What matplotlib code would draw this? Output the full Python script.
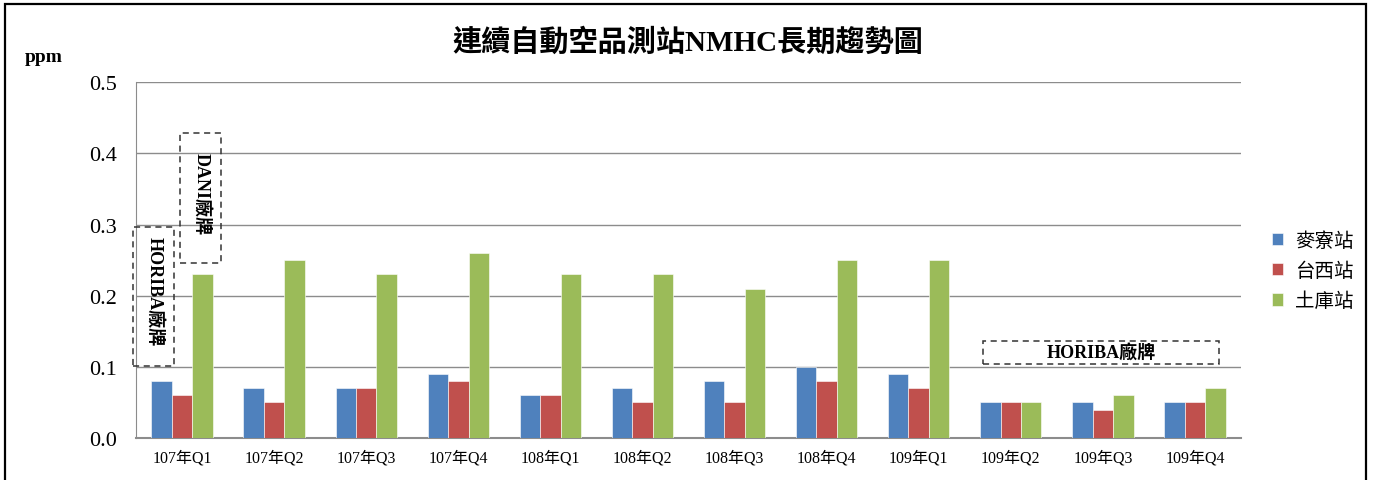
import numpy as np
import matplotlib
matplotlib.use("Agg")
import matplotlib.pyplot as plt
from matplotlib.patches import Rectangle

plt.rcParams['font.family'] = ['Liberation Serif', 'Noto Sans CJK TC', 'DejaVu Sans']

quarters = ['107年Q1', '107年Q2', '107年Q3', '107年Q4', '108年Q1', '108年Q2',
            '108年Q3', '108年Q4', '109年Q1', '109年Q2', '109年Q3', '109年Q4']
stations = ['麥寮站', '台西站', '土庫站']
mailiao = [0.08, 0.07, 0.07, 0.09, 0.06, 0.07, 0.08, 0.10, 0.09, 0.05, 0.05, 0.05]
taixi = [0.06, 0.05, 0.07, 0.08, 0.06, 0.05, 0.05, 0.08, 0.07, 0.05, 0.04, 0.05]
tuku = [0.23, 0.25, 0.23, 0.26, 0.23, 0.23, 0.21, 0.25, 0.25, 0.05, 0.06, 0.07]
colors = ['#4F81BD', '#C0504D', '#9BBB59']

fig = plt.figure(figsize=(13.75, 4.81), dpi=100)
ax = fig.add_axes([136/1375, 1-439/481, (1241-136)/1375, (439-83.3)/481])

x = np.arange(len(quarters))
w = 0.222
for k, (vals, c, name) in enumerate(zip([mailiao, taixi, tuku], colors, stations)):
    ax.bar(x + (k-1)*w, vals, w, color=c, label=name, edgecolor='white', linewidth=0.4, zorder=3)

ax.set_xlim(-0.5, len(quarters)-0.5)
ax.set_ylim(0, 0.5)
ax.set_yticks(np.arange(0, 0.51, 0.1))
ax.set_yticklabels(['%.1f' % v for v in np.arange(0, 0.51, 0.1)], fontsize=16)
ax.set_xticks(x)
ax.set_xticklabels(quarters, fontsize=11.5)
ax.tick_params(axis='both', length=0, pad=8)
ax.tick_params(axis='y', pad=14)
ax.grid(axis='y', color='#8c8c8c', linewidth=1, zorder=0)
for s in ['top', 'right']:
    ax.spines[s].set_visible(False)
ax.spines['left'].set_color('#8c8c8c')
ax.spines['bottom'].set_color('#8c8c8c')
ax.spines['bottom'].set_linewidth(1.5)

fig.text(0.5, 1-42/481, '連續自動空品測站NMHC長期趨勢圖', ha='center', va='center',
         fontsize=21, fontweight='bold')
fig.text(25/1375, 1-58/481, 'ppm', ha='left', va='center', fontsize=14, fontweight='bold')

# dashed boxes marking the analyzer brand periods
boxes = [(-0.53, 0.1017, 0.443, 0.1946, 'HORIBA廠牌', 270),
         (-0.019, 0.246, 0.442, 0.1834, 'DANI廠牌', 270),
         (8.693, 0.1045, 2.569, 0.0319, 'HORIBA廠牌', 0)]
for bx, by, bw, bh, label, rot in boxes:
    ax.add_patch(Rectangle((bx, by), bw, bh, fill=False, linestyle=(0, (4, 3)),
                           edgecolor='#333333', linewidth=1.1, zorder=4, clip_on=False))
    ty = by + bh/2 if rot == 0 else by + bh*0.54
    ax.text(bx + bw/2, ty, label, rotation=rot, ha='center', va='center',
            fontsize=13, fontweight='bold', zorder=5)

leg = ax.legend(loc='center left', bbox_to_anchor=(1.012, 0.47), frameon=False,
                fontsize=14, handlelength=0.6, handleheight=0.6, handletextpad=0.6,
                labelspacing=0.6)

fig.patches.append(Rectangle((5/1375, -0.05), (1366-5)/1375, 1.05 - 5/481,
                             transform=fig.transFigure, fill=False,
                             edgecolor='black', linewidth=1.6))

fig.savefig('out.png', dpi=100)
